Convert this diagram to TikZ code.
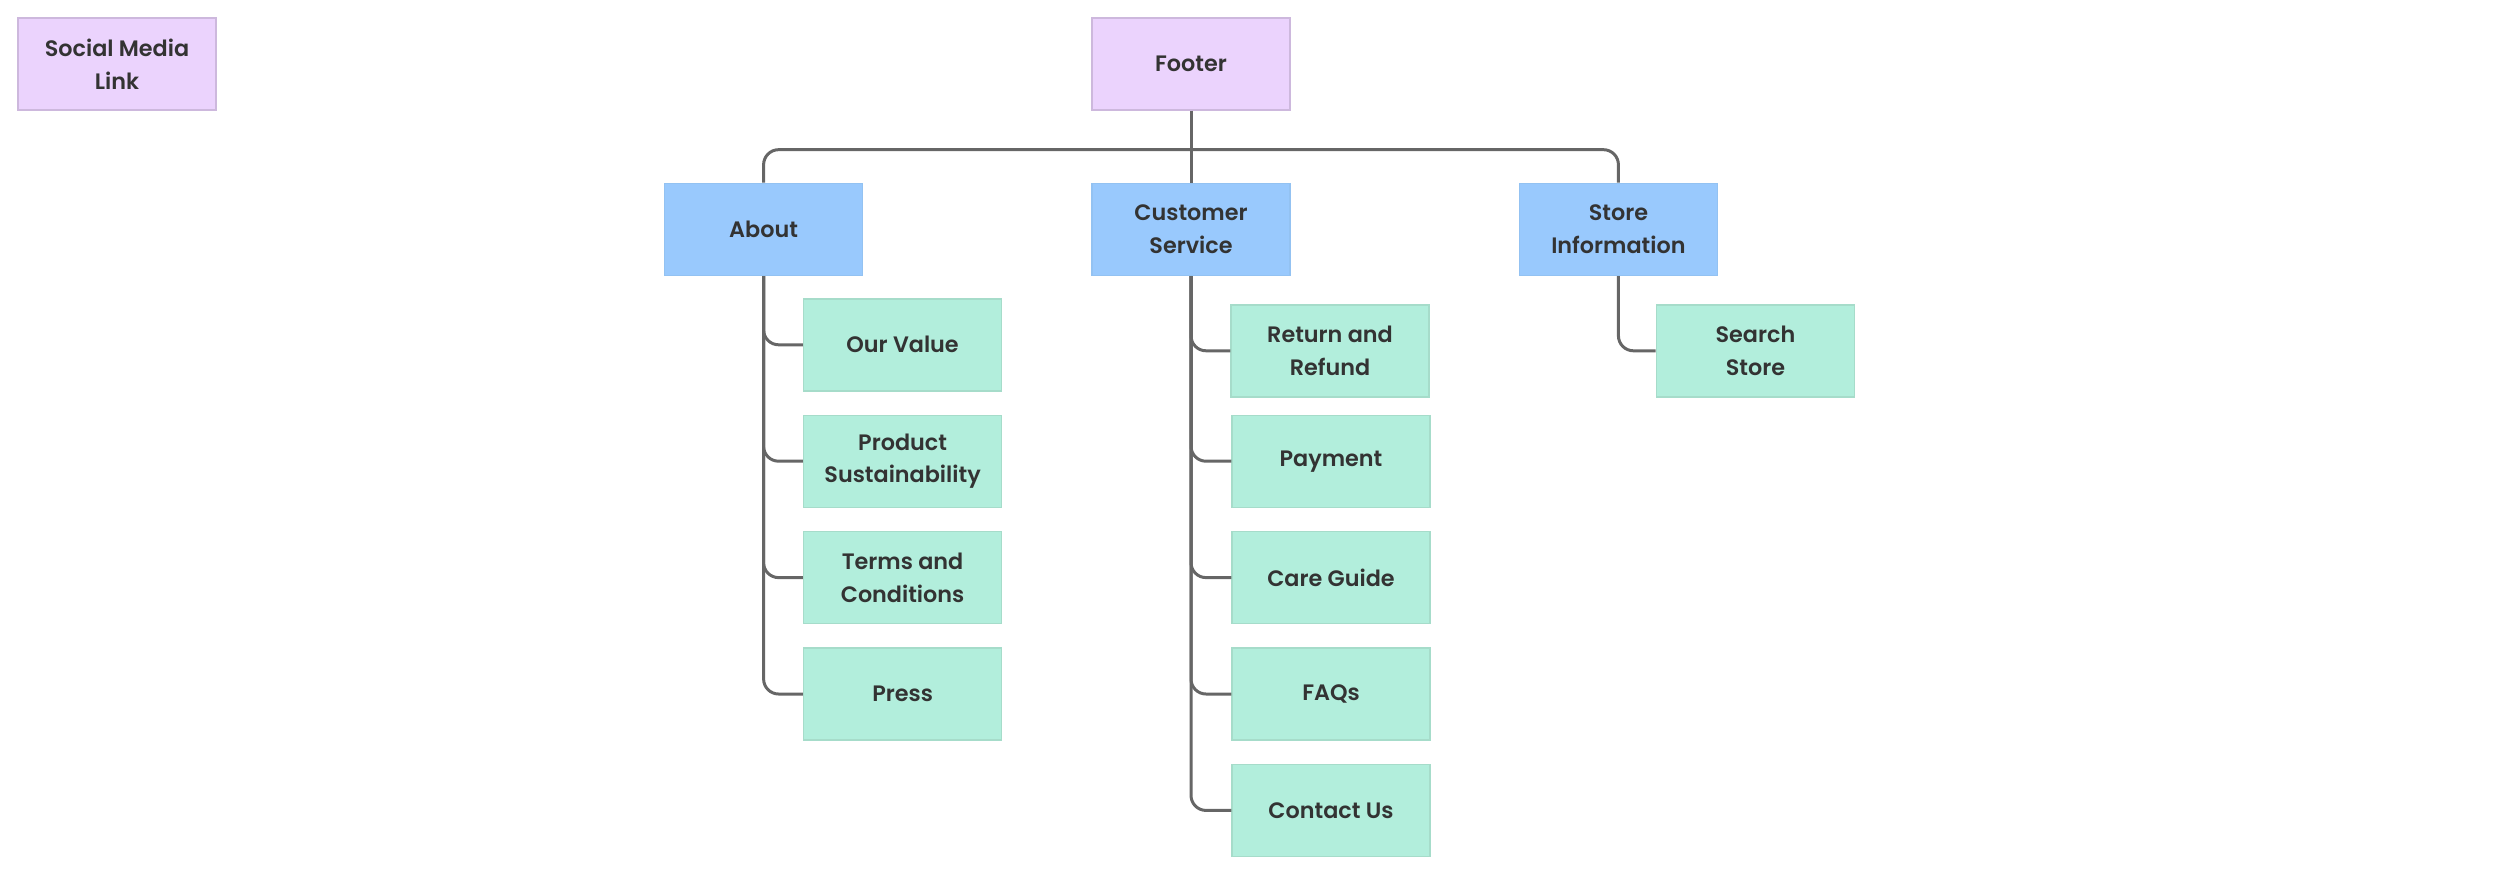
\documentclass[tikz,border=0pt]{standalone}
\usepackage{fontspec}
\setmainfont{Poppins}[UprightFont={* SemiBold}]
\usepackage{xcolor}
\usepackage{tikz}
\usetikzlibrary{positioning,calc}

\definecolor{rootfill}{HTML}{EBD3FD}
\definecolor{rootline}{HTML}{CDB8DD}
\definecolor{secfill}{HTML}{99C9FD}
\definecolor{secline}{HTML}{93C2F2}
\definecolor{leaffill}{HTML}{B2EEDC}
\definecolor{leafline}{HTML}{A6DCCA}
\definecolor{txt}{HTML}{333333}
\definecolor{wire}{HTML}{666666}

\begin{document}
\begin{tikzpicture}[
  every node/.style={font=\fontsize{6.35}{9.3}\selectfont, text=txt},
  box/.style={draw, inner sep=2pt, minimum width=19.8mm, minimum height=9.2mm,
              align=center, line width=0.4pt},
  root/.style={box, fill=rootfill, draw=rootline},
  sec/.style={box, fill=secfill, draw=secline},
  leaf/.style={box, fill=leaffill, draw=leafline},
  link/.style={draw=wire, line width=0.85pt, rounded corners=1.5mm},
]
  \useasboundingbox (0,0) rectangle (25,-8.76);

  \node[root] (social) at (1.17,-0.64) {Social Media\\Link};
  \node[root] (footer) at (11.91,-0.64) {Footer};

  \node[sec, below=7.2mm of footer] (cs) {Customer\\Service};
  \node[sec, left=22.8mm of cs]     (about) {About};
  \node[sec, right=22.8mm of cs]    (store) {Store\\Information};

  % about branch
  \node[leaf, below=2.2mm of about, xshift=13.9mm] (value) {Our Value};
  \node[leaf, below=2.3mm of value] (prod)  {Product\\Sustainability};
  \node[leaf, below=2.3mm of prod]  (terms) {Terms and\\Conditions};
  \node[leaf, below=2.3mm of terms] (press) {Press};

  % customer service branch
  \node[leaf, below=2.8mm of cs, xshift=13.9mm] (refund) {Return and\\Refund};
  \node[leaf, right=22.9mm of prod]  (pay)     {Payment};
  \node[leaf, right=22.9mm of terms] (care)    {Care Guide};
  \node[leaf, right=22.9mm of press] (faq)     {FAQs};
  \node[leaf, below=2.3mm of faq]    (contact) {Contact Us};

  % store branch
  \node[leaf, right=22.6mm of refund] (search) {Search\\Store};

  \coordinate (bus) at ($(cs.north)+(0,3.3mm)$);
  \draw[link] (footer) -- (cs);
  \draw[link] (about.north) |- (bus) -| (store.north);

  \foreach \c in {value,prod,terms,press}
    \draw[link] (about.south) |- (\c.west);
  \foreach \c in {refund,pay,care,faq,contact}
    \draw[link] (cs.south) |- (\c.west);
  \draw[link] (store.south) |- (search.west);
\end{tikzpicture}
\end{document}
